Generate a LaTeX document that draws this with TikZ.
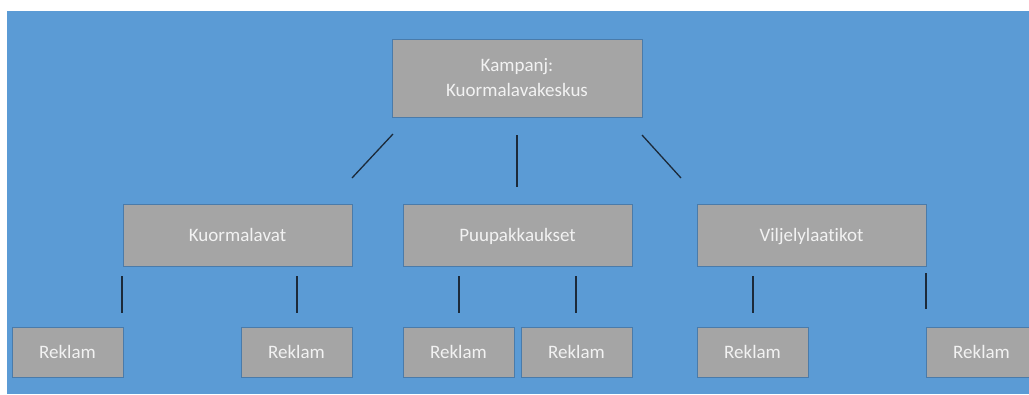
\documentclass[tikz,border=0pt]{standalone}
\usepackage{fontspec}
\setmainfont{Carlito}[Ligatures=NoCommon]
\definecolor{bgblue}{HTML}{5B9BD5}
\definecolor{boxgray}{HTML}{A5A5A5}
\definecolor{boxedge}{HTML}{4A7BAA}
\definecolor{txt}{HTML}{F2F2F2}
\definecolor{conn}{HTML}{1C2A3A}
\begin{document}
\begin{tikzpicture}[x=1pt,y=-1pt,
  box/.style={draw=boxedge,line width=0.8pt,fill=boxgray,inner sep=0pt,
    text=txt,font=\fontsize{19}{25}\selectfont},
  topbox/.style={box,align=center,minimum width=250pt,minimum height=78pt},
  midbox/.style={box,text height=16pt,text depth=3pt,minimum width=229pt,minimum height=62pt},
  leafbox/.style={box,text height=16pt,text depth=3pt,minimum width=111pt,minimum height=50pt},
  conn/.style={draw=conn,line width=1.3pt}]
\useasboundingbox (0,0) rectangle (1029,394);
\fill[white] (0,0) rectangle (1029,394);
\clip (0,0) rectangle (1029,394);
\fill[bgblue] (7,11) rectangle (1029,394);
\node[topbox] (top) at (517,78) {Kampanj:\\Kuormalavakeskus};
\node[midbox] (m1) at (237.5,235) {Kuormalavat};
\node[midbox] (m2) at (517.5,235) {Puupakkaukset};
\node[midbox] (m3) at (811.5,235) {Viljelylaatikot};
\node[leafbox] (r1) at (67.5,352) {Reklam};
\node[leafbox] (r2) at (296.5,352) {Reklam};
\node[leafbox] (r3) at (458.5,352) {Reklam};
\node[leafbox] (r4) at (576.5,352) {Reklam};
\node[leafbox] (r5) at (752.5,352) {Reklam};
\node[leafbox] (r6) at (981.5,352) {Reklam};
% connector end points (gaps between boxes)
\coordinate (a1) at (393,134); \coordinate (b1) at (352,178);
\coordinate (a2) at (517,135); \coordinate (b2) at (517,187);
\coordinate (a3) at (642,135); \coordinate (b3) at (681,178);
\coordinate (c1) at (122,276); \coordinate (d1) at (122,313);
\coordinate (c2) at (297,276); \coordinate (d2) at (297,313);
\coordinate (c3) at (459,276); \coordinate (d3) at (459,313);
\coordinate (c4) at (576,276); \coordinate (d4) at (576,313);
\coordinate (c5) at (753,276); \coordinate (d5) at (753,313);
\coordinate (c6) at (926,273); \coordinate (d6) at (926,309);
\draw[conn] (a1) -- (b1);
\draw[conn] (a2) -- (b2);
\draw[conn] (a3) -- (b3);
\draw[conn] (c1) -- (d1);
\draw[conn] (c2) -- (d2);
\draw[conn] (c3) -- (d3);
\draw[conn] (c4) -- (d4);
\draw[conn] (c5) -- (d5);
\draw[conn] (c6) -- (d6);
\end{tikzpicture}
\end{document}
